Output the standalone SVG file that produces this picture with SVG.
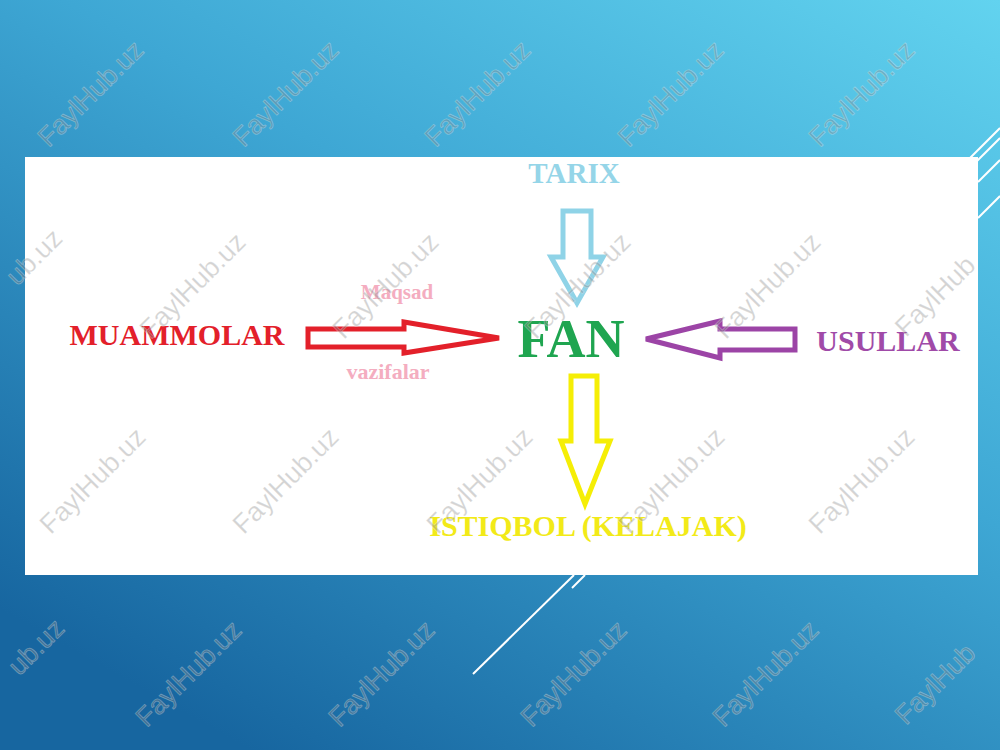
<svg xmlns="http://www.w3.org/2000/svg" width="1000" height="750" viewBox="0 0 1000 750">
<defs>
<linearGradient id="bg" x1="1" y1="0" x2="0.25" y2="1">
<stop offset="0" stop-color="#62d3ef"/>
<stop offset="0.45" stop-color="#3ea7d4"/>
<stop offset="1" stop-color="#1766a0"/>
</linearGradient>
<style>
.lbl{font-family:"Liberation Serif","Times New Roman",serif;font-weight:bold;text-anchor:middle}
.arr{fill:none;stroke-width:5;stroke-linejoin:miter}
.deco{stroke:#ffffff;stroke-width:2;fill:none}
.wm{font-family:"Liberation Sans",Arial,sans-serif;font-size:27px;fill:#8a8a8a;fill-opacity:0.38;stroke:#ffffff;stroke-opacity:0.3;stroke-width:0.8;text-anchor:middle}
.ws{text-anchor:start}
.we{text-anchor:end}
</style>
</defs>
<rect x="0" y="0" width="1000" height="750" fill="url(#bg)"/>
<g id="decor">
<line class="deco" x1="968" y1="160" x2="1000" y2="128"/>
<line class="deco" x1="976" y1="162" x2="1000" y2="138"/>
<line class="deco" x1="978" y1="182" x2="1000" y2="160"/>
<line class="deco" x1="978" y1="218" x2="1000" y2="196"/>
<line class="deco" x1="473" y1="674" x2="574" y2="575"/>
<line class="deco" x1="572" y1="588" x2="585" y2="575"/>
</g>
<rect id="panel" x="25" y="157" width="953" height="418" fill="#ffffff"/>
<g id="connectors">
<path id="arrow-tarix" class="arr" stroke="#8fd3e7" d="M563,211 L591,211 L591,257 L603,257 L577,303 L551,257 L563,257 Z"/>
<path id="arrow-muammolar" class="arr" stroke="#e3202a" d="M308,329 L404,329 L404,322 L499,338 L404,353 L404,347 L308,347 Z"/>
<path id="arrow-usullar" class="arr" stroke="#9c44a6" d="M795,329 L720,329 L720,321 L646,339 L720,358 L720,350 L795,350 Z"/>
<path id="arrow-istiqbol" class="arr" stroke="#f5ee06" d="M571,376 L597,376 L597,441 L610,441 L585,504 L561,441 L571,441 Z"/>
</g>
<g id="node-fan"><text class="lbl" x="571" y="357" font-size="54" fill="#1fa550">FAN</text></g>
<g id="node-tarix"><text class="lbl" x="574" y="183" font-size="29" fill="#95d5e8">TARIX</text></g>
<g id="node-muammolar"><text class="lbl" x="177" y="345" font-size="30" fill="#e3202a">MUAMMOLAR</text></g>
<g id="node-usullar"><text class="lbl" x="888" y="351" font-size="30" fill="#a04aa8">USULLAR</text></g>
<g id="node-istiqbol"><text class="lbl" x="588" y="536" font-size="30" fill="#f2ea18">ISTIQBOL (KELAJAK)</text></g>
<g id="label-maqsad"><text class="lbl" x="397" y="299" font-size="21" fill="#f4adc0">Maqsad</text></g>
<g id="label-vazifalar"><text class="lbl" x="388" y="379" font-size="22" fill="#f4adc0">vazifalar</text></g>
<g id="watermarks">
<text class="wm" transform="translate(97,100) rotate(-45)">FaylHub.uz</text>
<text class="wm" transform="translate(292,100) rotate(-45)">FaylHub.uz</text>
<text class="wm" transform="translate(484,100) rotate(-45)">FaylHub.uz</text>
<text class="wm" transform="translate(677,100) rotate(-45)">FaylHub.uz</text>
<text class="wm" transform="translate(868,100) rotate(-45)">FaylHub.uz</text>
<text class="wm we" transform="translate(64,240) rotate(-45)">ub.uz</text>
<text class="wm" transform="translate(199,292) rotate(-45)">FaylHub.uz</text>
<text class="wm" transform="translate(392,292) rotate(-45)">FaylHub.uz</text>
<text class="wm" transform="translate(584,292) rotate(-45)">FaylHub.uz</text>
<text class="wm" transform="translate(774,292) rotate(-45)">FaylHub.uz</text>
<text class="wm ws" transform="translate(906,338) rotate(-45)">FaylHub</text>
<text class="wm" transform="translate(99,487) rotate(-45)">FaylHub.uz</text>
<text class="wm" transform="translate(292,487) rotate(-45)">FaylHub.uz</text>
<text class="wm" transform="translate(486,487) rotate(-45)">FaylHub.uz</text>
<text class="wm" transform="translate(678,487) rotate(-45)">FaylHub.uz</text>
<text class="wm" transform="translate(868,487) rotate(-45)">FaylHub.uz</text>
<text class="wm we" transform="translate(66,630) rotate(-45)">ub.uz</text>
<text class="wm" transform="translate(195,680) rotate(-45)">FaylHub.uz</text>
<text class="wm" transform="translate(388,680) rotate(-45)">FaylHub.uz</text>
<text class="wm" transform="translate(580,680) rotate(-45)">FaylHub.uz</text>
<text class="wm" transform="translate(772,680) rotate(-45)">FaylHub.uz</text>
<text class="wm ws" transform="translate(906,726) rotate(-45)">FaylHub</text>
</g>
</svg>
